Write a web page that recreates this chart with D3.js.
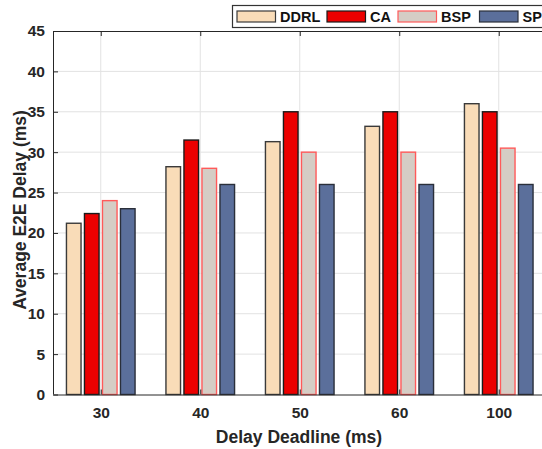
<!DOCTYPE html>
<html>
<head>
<meta charset="utf-8">
<script src="https://cdn.jsdelivr.net/npm/d3@7"></script>
<style>
  body { margin: 0; background: #fff; }
  svg { display: block; font-family: "Liberation Sans", Arial, sans-serif; font-weight: bold; }
</style>
</head>
<body>
<div id="chart"></div>
<script>
// data
const deadlines = ["30", "40", "50", "60", "100"];
const methods = ["DDRL", "CA", "BSP", "SP"];
const ddrl = [21.2, 28.2, 31.3, 33.2, 36.0];
const ca = [22.4, 31.5, 35.0, 35.0, 35.0];
const bsp = [24.0, 28.0, 30.0, 30.0, 30.5];
const sp = [23.0, 26.0, 26.0, 26.0, 26.0];
const yTicks = [0, 5, 10, 15, 20, 25, 30, 35, 40, 45];

const fills = { DDRL: "#f9dcb8", CA: "#ec0000", BSP: "#d5cdc5", SP: "#5b6f9b" };
const strokes = { DDRL: "#3a3a3a", CA: "#1a1a1a", BSP: "#ff5a5a", SP: "#2a2f3a" };

const seriesValues = { DDRL: ddrl, CA: ca, BSP: bsp, SP: sp };

const W = 542, H = 449;
const plotLeft = 53, plotRight = 546.5, plotTop = 31, plotBottom = 394.5;

const svg = d3.select("#chart").append("svg")
    .attr("width", W)
    .attr("height", H);

// scales
const x = d3.scalePoint()
    .domain(deadlines)
    .range([plotLeft, plotRight])
    .padding(0.48);

const y = d3.scaleLinear()
    .domain([0, 45])
    .range([plotBottom, plotTop]);

const step = x.step();
const inner = d3.scaleBand()
    .domain(methods)
    .range([-0.362 * step, 0.362 * step])
    .paddingInner(0.19)
    .paddingOuter(0.095);

// grid
const grid = svg.append("g").attr("stroke", "#e2e2e2").attr("stroke-width", 1);
grid.selectAll("line.h")
    .data(yTicks.slice(1, -1))
    .enter().append("line")
    .attr("x1", plotLeft).attr("x2", plotRight)
    .attr("y1", d => y(d)).attr("y2", d => y(d));
grid.selectAll("line.v")
    .data(deadlines)
    .enter().append("line")
    .attr("x1", d => x(d)).attr("x2", d => x(d))
    .attr("y1", plotTop).attr("y2", plotBottom);

// bars
const rows = deadlines.map((d, i) => ({ deadline: d, i: i }));
const groups = svg.append("g").selectAll("g")
    .data(rows)
    .enter().append("g")
    .attr("transform", d => "translate(" + x(d.deadline) + ",0)");

groups.selectAll("rect")
    .data(d => methods.map(m => ({ key: m, value: seriesValues[m][d.i] })))
    .enter().append("rect")
    .attr("x", d => inner(d.key))
    .attr("width", inner.bandwidth())
    .attr("y", d => y(d.value))
    .attr("height", d => y(0) - y(d.value))
    .attr("fill", d => fills[d.key])
    .attr("stroke", d => strokes[d.key])
    .attr("stroke-width", 1.4);

// axes
const axisColor = "#262626";
const yAxis = svg.append("g")
    .attr("transform", "translate(" + plotLeft + ",0)")
    .call(d3.axisLeft(y).tickValues(yTicks).tickSize(-5).tickPadding(8));
const xAxis = svg.append("g")
    .attr("transform", "translate(0," + plotBottom + ")")
    .call(d3.axisBottom(x).tickSize(-5).tickPadding(12).tickSizeOuter(0));
const xTop = svg.append("g")
    .attr("transform", "translate(0," + plotTop + ")")
    .call(d3.axisTop(x).tickSize(-5).tickFormat("").tickSizeOuter(0));

[yAxis, xAxis, xTop].forEach(a => {
    a.selectAll("path,line").attr("stroke", axisColor).attr("stroke-width", 1);
    a.selectAll("text")
        .attr("fill", "#262626")
        .style("font-family", "'Liberation Sans', Arial, sans-serif")
        .style("font-weight", "bold")
        .style("font-size", "15.5px");
});
yAxis.select(".domain").attr("d", "M0.5," + plotTop + "V" + plotBottom);

// axis titles
svg.append("text")
    .attr("x", 299)
    .attr("y", 443)
    .attr("text-anchor", "middle")
    .attr("fill", "#262626")
    .style("font-size", "17.5px")
    .text("Delay Deadline (ms)");

svg.append("text")
    .attr("transform", "translate(26,210) rotate(-90)")
    .attr("text-anchor", "middle")
    .attr("fill", "#262626")
    .style("font-size", "17.5px")
    .text("Average E2E Delay (ms)");

// legend
const legend = svg.append("g");
legend.append("rect")
    .attr("x", 232.5).attr("y", 5.5)
    .attr("width", 330).attr("height", 22)
    .attr("fill", "#fff")
    .attr("stroke", "#333").attr("stroke-width", 1.2);

const legendX = [237, 327, 398, 479.5];
const items = legend.selectAll("g.item")
    .data(methods)
    .enter().append("g")
    .attr("transform", (d, i) => "translate(" + legendX[i] + ",11)");
items.append("rect")
    .attr("width", 38.5).attr("height", 11)
    .attr("fill", d => fills[d])
    .attr("stroke", d => strokes[d])
    .attr("stroke-width", 1.2);
items.append("text")
    .attr("x", 43).attr("y", 11)
    .attr("fill", "#111")
    .style("font-size", "14.5px")
    .text(d => d);
</script>
</body>
</html>
